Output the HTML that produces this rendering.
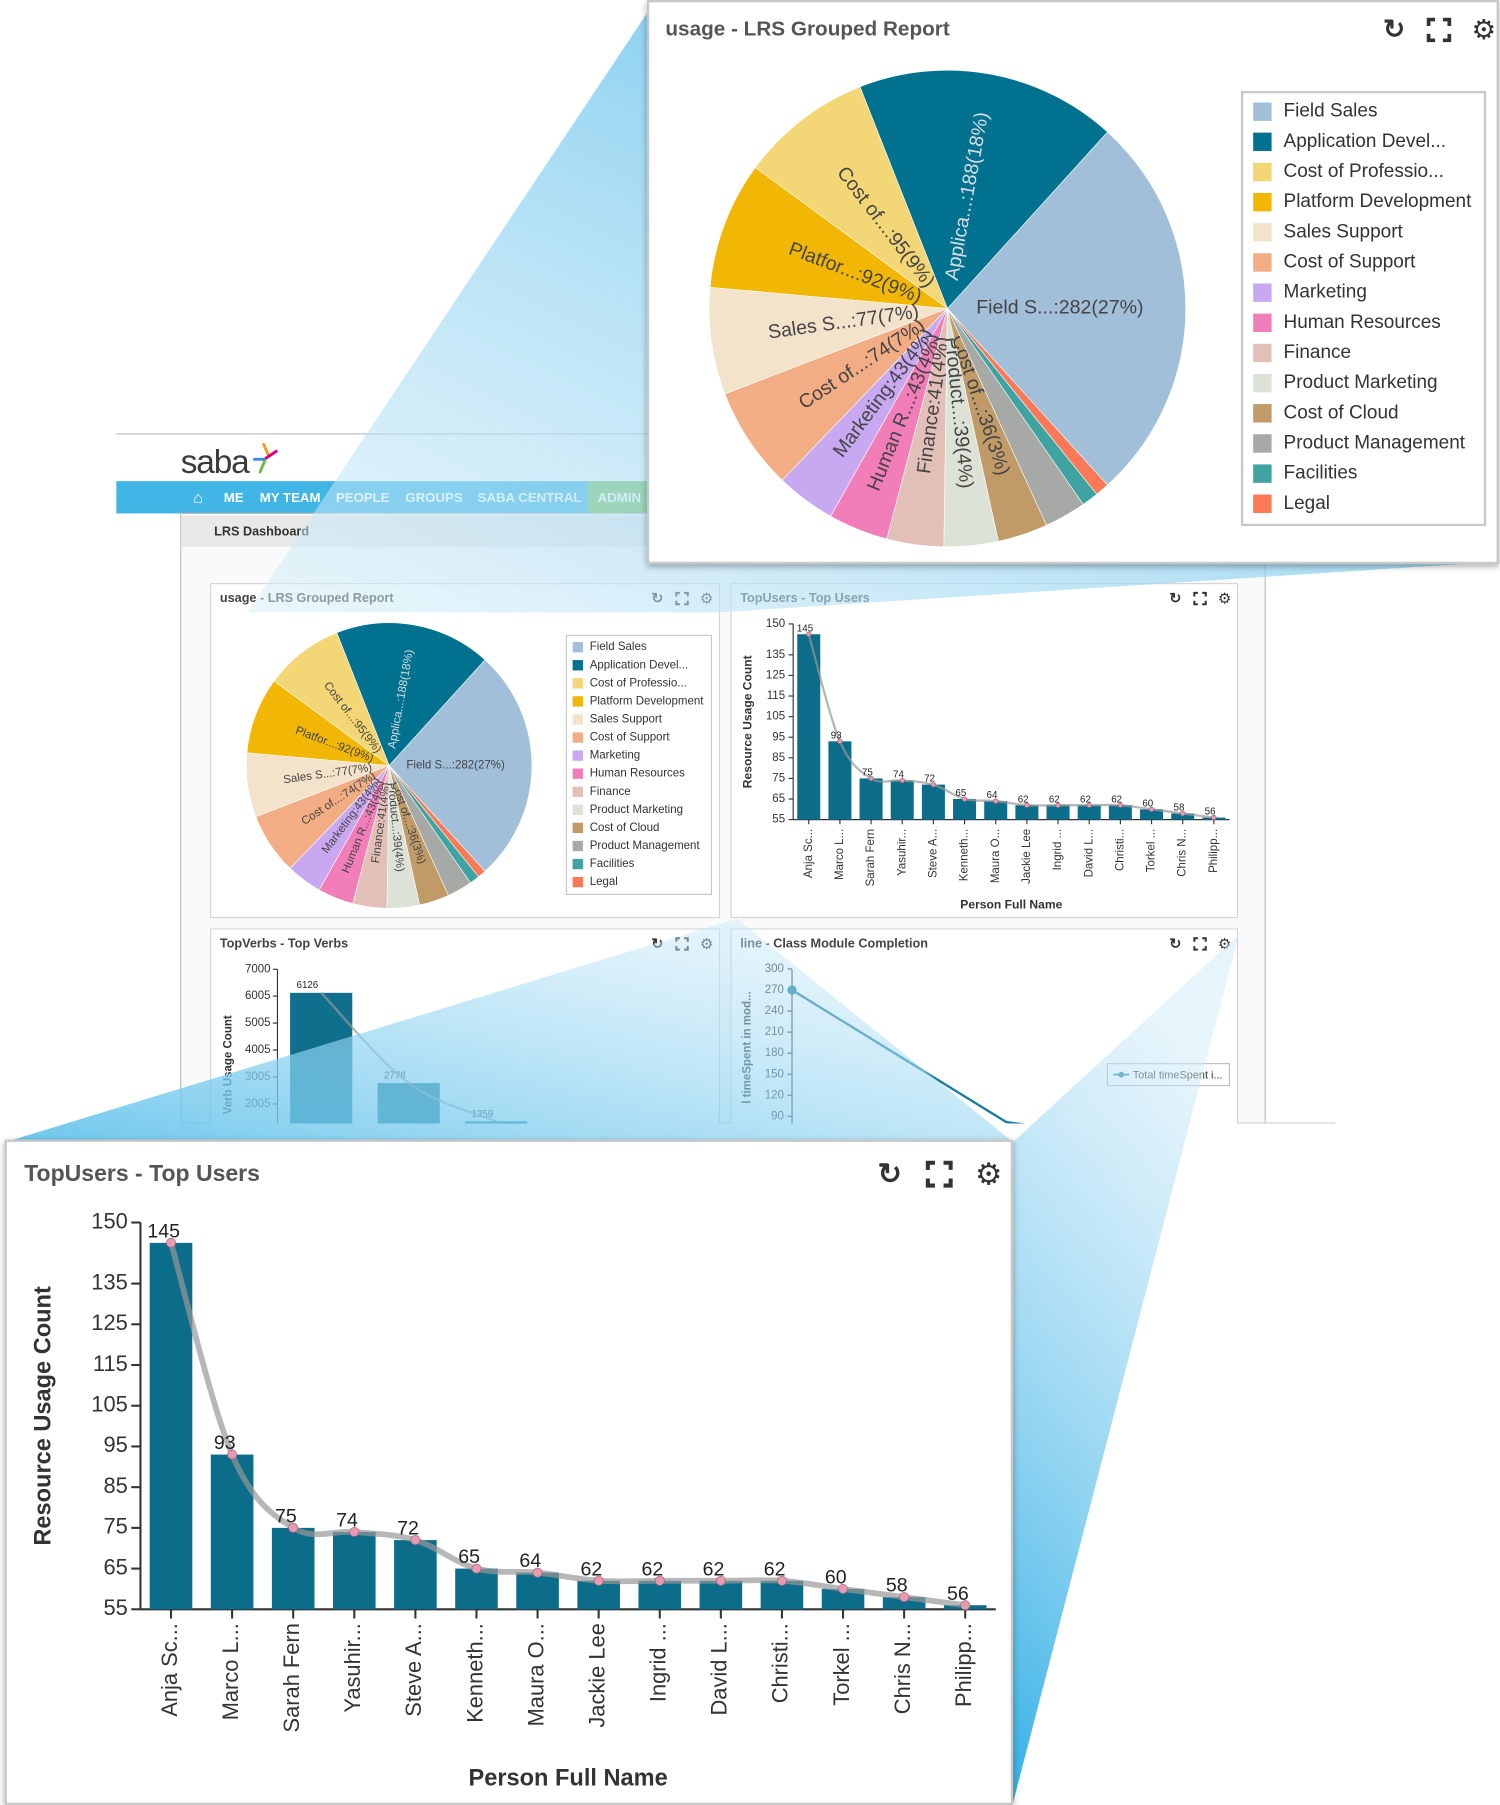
<!DOCTYPE html>
<html><head><meta charset="utf-8"><style>
html,body{margin:0;padding:0;background:#fff;}
svg{display:block;font-family:"Liberation Sans",Arial,sans-serif;}
</style></head><body>
<svg id="root" width="1500" height="1805" viewBox="0 0 1303 1568" xmlns="http://www.w3.org/2000/svg">
<defs>
<linearGradient id="gTop" x1="1" y1="0" x2="0" y2="1"><stop offset="0" stop-color="#3fb3e6" stop-opacity="0.95"/><stop offset="1" stop-color="#d6eef9" stop-opacity="0.5"/></linearGradient>
<linearGradient id="gLeft" x1="0" y1="1" x2="1" y2="0"><stop offset="0" stop-color="#5cc0ea" stop-opacity="0.9"/><stop offset="1" stop-color="#d8effa" stop-opacity="0.35"/></linearGradient>
<linearGradient id="gRight" x1="0" y1="1" x2="0.3" y2="0"><stop offset="0" stop-color="#34b0e6" stop-opacity="1"/><stop offset="1" stop-color="#cdeaf8" stop-opacity="0.5"/></linearGradient>
<filter id="sh" x="-5%" y="-5%" width="110%" height="110%"><feDropShadow dx="0" dy="2" stdDeviation="3" flood-color="#000" flood-opacity="0.35"/></filter>
<clipPath id="dashClip"><rect x="0" y="0" width="1303" height="976"/></clipPath>
</defs>
<g id="dash" clip-path="url(#dashClip)"></g>
<g id="overlay">
<polygon points="563,10 215,532 625,532 1300,488 563,488" fill="url(#gTop)"/>
<polygon points="5,992 640,798 880,992" fill="url(#gLeft)"/>
<polygon points="880,992 1076,812 880,1566" fill="url(#gRight)"/>
</g>
<g id="popTop"></g>
<g id="popBottom"></g>
</svg>
<script>
// ---------- data ----------
const pieCategories = ["Field Sales","Application Devel...","Cost of Professio...","Platform Development","Sales Support","Cost of Support","Marketing","Human Resources","Finance","Product Marketing","Cost of Cloud","Product Management","Facilities","Legal"];
const pieShortNames = ["Field S...","Applica...","Cost of...","Platfor...","Sales S...","Cost of...","Marketing","Human R...","Finance","Product...","Cost of...","","",""];
const pieValues = [282,188,95,92,77,74,43,43,41,39,36,30,12,10];
const pieColors = ["#a2bfda","#00718f","#f3d675","#f2b705","#f3e3cb","#f2ad84","#c8a9f1","#f27eb9","#e2c0b8","#dde2d7","#c19b67","#a7a9a7","#3fa3a1","#fb7957"];

const userNames = ["Anja Sc...","Marco L...","Sarah Fern","Yasuhir...","Steve A...","Kenneth...","Maura O...","Jackie Lee","Ingrid ...","David L...","Christi...","Torkel ...","Chris N...","Philipp..."];
const userValues = [145,93,75,74,72,65,64,62,62,62,62,60,58,56];
const userTicks = [150,135,125,115,105,95,85,75,65,55];

const verbCategories = ["Verb 1","Verb 2","Verb 3"];
const verbValues = [6126,2778,1359];
const verbTicks = [7000,6005,5005,4005,3005,2005];

const lineCategories = ["Module 1","Module 2","Module 3"];
const lineValues = [270,82,40];
const lineTicks = [300,270,240,210,180,150,120,90];

const NS = "http://www.w3.org/2000/svg";
function mk(tag, attrs, parent, txt){
  const e = document.createElementNS(NS, tag);
  for (const k in attrs) e.setAttribute(k, attrs[k]);
  if (txt !== undefined) e.textContent = txt;
  parent.appendChild(e);
  return e;
}
function icons(g, x, y, s){
  const r = mk("text",{x:x,y:y+s*0.36,"font-size":s*1.15,"font-weight":"bold",fill:"#333","text-anchor":"middle"},g,"↻");
  
  
  const ex = x + s*1.95, h = s*0.45, l = s*0.28;
  const e = mk("path",{d:`M${ex-h} ${y-h+l}V${y-h}H${ex-h+l} M${ex+h-l} ${y-h}H${ex+h}V${y-h+l} M${ex+h} ${y+h-l}V${y+h}H${ex+h-l} M${ex-h+l} ${y+h}H${ex-h}V${y+h-l}`,fill:"none",stroke:"#333","stroke-width":s*0.16},g);
  
  
  const gr = mk("text",{x:x+s*3.9,y:y+s*0.4,"font-size":s*1.2,fill:"#333","text-anchor":"middle"},g,"⚙");
  
  
}
function drawPie(g, cx, cy, r, fs, r0, withLabels){
  const total = pieValues.reduce((a,b)=>a+b,0);
  let a0 = pieValues[0]/total*180;
  const rad = d=>d*Math.PI/180;
  pieValues.forEach((v,i)=>{
    const sw = v/total*360, a1 = a0 - sw;
    const x0 = cx + r*Math.cos(rad(a1)), y0 = cy + r*Math.sin(rad(a1));
    const x1 = cx + r*Math.cos(rad(a0)), y1 = cy + r*Math.sin(rad(a0));
    const p = mk("path",{d:`M${cx} ${cy}L${x0} ${y0}A${r} ${r} 0 ${sw>180?1:0} 1 ${x1} ${y1}Z`,fill:pieColors[i],stroke:"#fff","stroke-width":0.5},g);
    
    
    if (withLabels && pieShortNames[i]){
      const m = (a0+a1)/2;
      const lx = cx + r0*Math.cos(rad(m)), ly = cy + r0*Math.sin(rad(m));
      const left = Math.cos(rad(m)) < 0;
      const rot = left ? m+180 : m;
      const pct = Math.round(v/total*100);
      const t = mk("text",{x:lx,y:ly,"font-size":fs,fill:i==1?"#d8dde2":"#444","text-anchor":left?"end":"start","dominant-baseline":"middle",transform:`rotate(${rot} ${lx} ${ly})`},g,`${pieShortNames[i]}:${v}(${pct}%)`);
      
      
    }
    a0 = a1;
  });
}
function drawLegend(g, x, y, w, h, fs, step, sw){
  const b = mk("rect",{x:x,y:y,width:w,height:h,fill:"#fff",stroke:"#c8c8c8","stroke-width":fs>12?2:1},g);
  
  
  pieCategories.forEach((c,i)=>{
    const yy = y + step*0.65 + i*step;
    const s = mk("rect",{x:x+sw*0.6,y:yy-sw/2,width:sw,height:sw,fill:pieColors[i]},g);
    
    
    const t = mk("text",{x:x+sw*2.25,y:yy,"font-size":fs,fill:"#333","dominant-baseline":"middle"},g,c);
    
    
  });
}
function smooth(pts){
  let d = `M${pts[0][0]} ${pts[0][1]}`;
  for (let i=0;i<pts.length-1;i++){
    const p0=pts[Math.max(0,i-1)],p1=pts[i],p2=pts[i+1],p3=pts[Math.min(pts.length-1,i+2)];
    d += `C${p1[0]+(p2[0]-p0[0])/6} ${p1[1]+(p2[1]-p0[1])/6} ${p2[0]-(p3[0]-p1[0])/6} ${p2[1]-(p3[1]-p1[1])/6} ${p2[0]} ${p2[1]}`;
  }
  return d;
}
function drawUsers(g, o){
  const ys = v => o.yb - (v-55)/95*(o.yb-o.yt);
  const bw = (o.x1-o.ax)/userValues.length;
  const xc = i => o.ax + bw*(i+0.5);
  mk("line",{x1:o.ax,y1:o.yt,x2:o.ax,y2:o.yb,stroke:"#333","stroke-width":o.sw},g);
  mk("line",{x1:o.ax,y1:o.yb,x2:o.x1,y2:o.yb,stroke:"#333","stroke-width":o.sw},g);
  userTicks.forEach(t=>{
    mk("line",{x1:o.ax-o.tk,y1:ys(t),x2:o.ax,y2:ys(t),stroke:"#333","stroke-width":o.sw},g);
    const l = mk("text",{x:o.ax-o.tk-3,y:ys(t),"font-size":o.fs,fill:"#333","text-anchor":"end","dominant-baseline":"middle"},g,t);
    
    
  });
  const pts=[];
  userValues.forEach((v,i)=>{
    const b = mk("rect",{x:xc(i)-o.bar/2,y:ys(v),width:o.bar,height:o.yb-ys(v),fill:"#0b6d8a"},g);
    
    
    pts.push([xc(i),ys(v)]);
    const n = mk("text",{x:xc(i),y:o.yb+o.tk+4,"font-size":o.fs,fill:"#333","text-anchor":"end","dominant-baseline":"middle",transform:`rotate(-90 ${xc(i)} ${o.yb+o.tk+4})`},g,userNames[i]);
    
    
    mk("line",{x1:xc(i),y1:o.yb,x2:xc(i),y2:o.yb+o.tk,stroke:"#333","stroke-width":o.sw},g);
  });
  const ln = mk("path",{d:smooth(pts),fill:"none",stroke:"#999","stroke-width":o.lw,"stroke-opacity":0.7},g);
  
  
  userValues.forEach((v,i)=>{
    const c = mk("circle",{cx:xc(i),cy:ys(v),r:o.pr,fill:"#e89ab0",stroke:"#a06080","stroke-width":0.6},g);
    
    
    const t = mk("text",{x:xc(i)-bw*0.12,y:ys(v)-o.fs*0.25,"font-size":o.vfs,fill:"#222","text-anchor":"middle"},g,v);
    
    
  });
  const xt = mk("text",{x:(o.ax+o.x1)/2,y:o.xty,"font-size":o.tfs,"font-weight":"bold",fill:"#333","text-anchor":"middle"},g,"Person Full Name");
  
  
  const yt = mk("text",{x:o.ytx,y:(o.yt+o.yb)/2,"font-size":o.tfs,"font-weight":"bold",fill:"#333","text-anchor":"middle",transform:`rotate(-90 ${o.ytx} ${(o.yt+o.yb)/2})`},g,"Resource Usage Count");
  
  
}
function widget(g, x, y, w, h, title, name){
  const wg = mk("g",{},g);
  
  
  mk("rect",{x:x,y:y,width:w,height:h,fill:"#fff",stroke:"#d4d4d4"},wg);
  const t = mk("text",{x:x+8,y:y+16,"font-size":11,"font-weight":"bold",fill:"#444"},wg,title);
  
  
  icons(wg, x+w-54, y+13, 11);
  return wg;
}

// ---------- background dashboard ----------
const dash = document.getElementById("dash");
mk("line",{x1:101,y1:377,x2:565,y2:377,stroke:"#bbb"},dash);
const logo = mk("text",{x:157,y:411,"font-size":29,fill:"#3a3a3a","letter-spacing":"-1"},dash,"saba");


[["#f29b1c",229,386,233,395],["#e2007a",240,392,231,398],["#6cbd45",226,410,230,400],["#3a8dde",221,399,229,399]].forEach(s=>mk("line",{x1:s[1],y1:s[2],x2:s[3],y2:s[4],stroke:s[0],"stroke-width":2.5,"stroke-linecap":"round"},dash));
const nav = mk("rect",{x:101,y:418,width:464,height:28,fill:"#40b5e6"},dash);


mk("rect",{x:511,y:418,width:54,height:28,fill:"#7cc45f"},dash);
const home = mk("text",{x:172,y:437,"font-size":14,fill:"#fff","text-anchor":"middle"},dash,"⌂");


[["ME",203],["MY TEAM",252],["PEOPLE",315],["GROUPS",377],["SABA CENTRAL",460],["ADMIN",538]].forEach(n=>{
  const t = mk("text",{x:n[1],y:436,"font-size":11.5,"font-weight":"bold",fill:"#fff","text-anchor":"middle"},dash,n[0]);
  
  
});
mk("rect",{x:157,y:446,width:942,height:540,fill:"#fafafa",stroke:"#bdbdbd"},dash);
mk("rect",{x:158,y:448,width:940,height:27,fill:"#e9e9e9"},dash);
const dt = mk("text",{x:186,y:465,"font-size":11,"font-weight":"bold",fill:"#333"},dash,"LRS Dashboard");


mk("line",{x1:157,y1:975.5,x2:1160,y2:975.5,stroke:"#ccc"},dash);

// small pie widget
const wp = widget(dash,183,507,442,290,"usage - LRS Grouped Report","pie-widget");
drawPie(wp,338,665,124,10,15,true);
drawLegend(wp,492,552,126,225,10,15.7,9);

// small top users widget
const wu = widget(dash,635,507,440,290,"TopUsers - Top Users","top-users-widget");
drawUsers(wu,{ax:689,x1:1068,yt:542,yb:712,bar:20,sw:1,tk:4,fs:10,vfs:8.5,tfs:10.5,lw:2,pr:2,xty:789,ytx:653});

// top verbs widget
const wv = widget(dash,183,807,442,200,"TopVerbs - Top Verbs","top-verbs-widget");
{
  const vy = v => 959 - (v-2005)/(7000-2005)*(959-842);
  const bw = 76, x0 = 241;
  mk("line",{x1:x0,y1:842,x2:x0,y2:1000,stroke:"#333"},wv);
  verbTicks.forEach(t=>{
    mk("line",{x1:x0-4,y1:vy(t),x2:x0,y2:vy(t),stroke:"#333"},wv);
    const l = mk("text",{x:x0-6,y:vy(t),"font-size":10,fill:"#333","text-anchor":"end","dominant-baseline":"middle"},wv,t);
    
    
  });
  const pts=[];
  verbValues.forEach((v,i)=>{
    const cx = x0 + 38 + i*bw;
    const b = mk("rect",{x:cx-27,y:vy(v),width:54,height:1000-vy(v),fill:"#0f6f8c"},wv);
    
    
    pts.push([cx,vy(v)]);
    const t = mk("text",{x:cx-12,y:vy(v)-4,"font-size":8.5,fill:"#222","text-anchor":"middle"},wv,v);
    
    
  });
  mk("path",{d:smooth(pts),fill:"none",stroke:"#999","stroke-width":2,"stroke-opacity":0.7},wv);
  const yt = mk("text",{x:201,y:925,"font-size":10,"font-weight":"bold",fill:"#333","text-anchor":"middle",transform:"rotate(-90 201 925)"},wv,"Verb Usage Count");
  
  
}

// line widget
const wl = widget(dash,635,807,440,200,"line - Class Module Completion","line-widget");
{
  const ly = v => 860 - (v-270)/30*18.3;
  const lx = i => 688 + i*186;
  mk("line",{x1:688,y1:842,x2:688,y2:1000,stroke:"#333"},wl);
  lineTicks.forEach(t=>{
    mk("line",{x1:684,y1:ly(t),x2:688,y2:ly(t),stroke:"#333"},wl);
    const l = mk("text",{x:681,y:ly(t),"font-size":10,fill:"#333","text-anchor":"end","dominant-baseline":"middle"},wl,t);
    
    
  });
  const d = lineValues.map((v,i)=>(i?"L":"M")+lx(i)+" "+ly(v)).join("");
  const p = mk("path",{d:d,fill:"none",stroke:"#1a7aa0","stroke-width":2},wl);
  
  
  const c = mk("circle",{cx:lx(0),cy:ly(lineValues[0]),r:4,fill:"#1a7aa0"},wl);
  
  
  const lg = mk("rect",{x:962,y:924,width:106,height:19,fill:"#fff",stroke:"#bbb"},wl);
  
  
  mk("line",{x1:967,y1:933.5,x2:981,y2:933.5,stroke:"#1a7aa0","stroke-width":1.5},wl);
  mk("circle",{cx:974,cy:933.5,r:2.5,fill:"#1a7aa0"},wl);
  const lt = mk("text",{x:984,y:937,"font-size":9.5,fill:"#333"},wl,"Total timeSpent i...");
  
  
  const yt = mk("text",{x:652,y:910,"font-size":10,"font-weight":"bold",fill:"#333","text-anchor":"middle",transform:"rotate(-90 652 910)"},wl,"l timeSpent in mod...");
  
  
}

// ---------- top popup ----------
const pt = document.getElementById("popTop");
mk("rect",{x:563,y:1,width:738,height:488,fill:"#fff",stroke:"#c8c8c8","stroke-width":2,filter:"url(#sh)"},pt);
const ptt = mk("text",{x:578,y:31,"font-size":18,"font-weight":"bold",fill:"#555"},pt,"usage - LRS Grouped Report");


icons(pt,1211,26,20);
drawPie(pt,823,268,207,17,25,true);
drawLegend(pt,1079,80,211,376,16.5,26.2,16);

// ---------- bottom popup ----------
const pb = document.getElementById("popBottom");
mk("rect",{x:5,y:991,width:874,height:576,fill:"#fff",stroke:"#c8c8c8","stroke-width":2,filter:"url(#sh)"},pb);
const pbt = mk("text",{x:21,y:1026,"font-size":20,"font-weight":"bold",fill:"#555"},pb,"TopUsers - Top Users");


icons(pb,773,1020,22);
drawUsers(pb,{ax:122,x1:865,yt:1062,yb:1398,bar:37,sw:1.8,tk:8,fs:19,vfs:17,tfs:20.5,lw:5,pr:4,xty:1551,ytx:44});
</script>
</body></html>
